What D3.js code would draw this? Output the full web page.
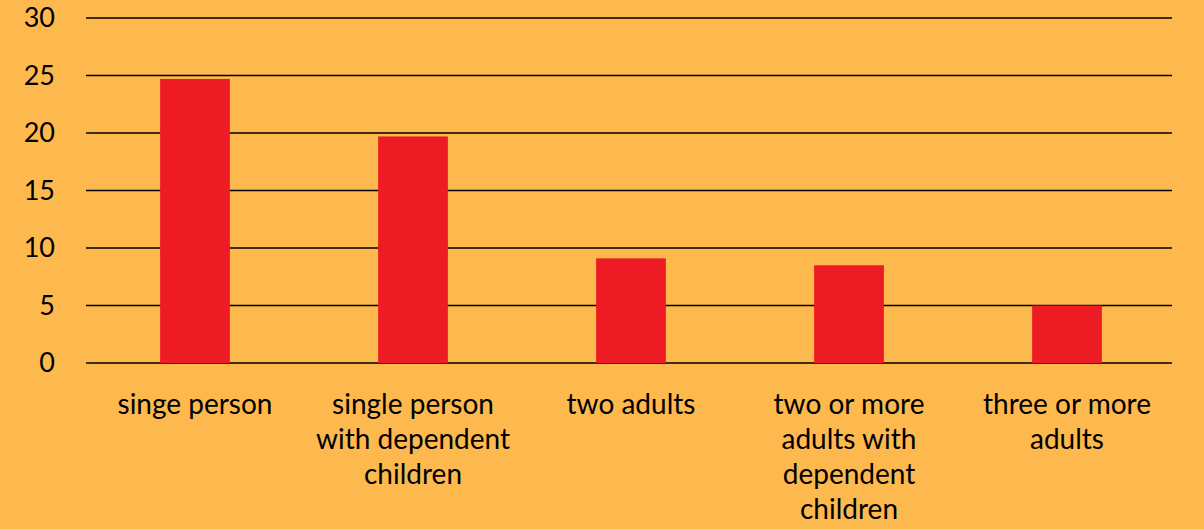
<!DOCTYPE html>
<html lang="en">
  <head>
    <meta charset="utf-8">
    <title>Households chart</title>
    <style>
      body { margin: 0; background: #fdb94e; }
      svg { display: block; font-family: Lato, "Open Sans", sans-serif; }
      .tick text { fill: #000; }
    </style>
    <script src="https://cdn.jsdelivr.net/npm/d3@7/dist/d3.min.js"></script>
  </head>
  <body>
    <svg id="chart" width="1204" height="529"></svg>
    <script>
      // data
      var categories = ["singe person", "single person with dependent children", "two adults",
                        "two or more adults with dependent children", "three or more adults"];
      var labelLines = [["singe person"],
                        ["single person", "with dependent", "children"],
                        ["two adults"],
                        ["two or more", "adults with", "dependent", "children"],
                        ["three or more", "adults"]];
      var values = [24.7, 19.7, 9.1, 8.5, 5.0];
      var yTicks = [0, 5, 10, 15, 20, 25, 30];

      var svg = d3.select('#chart');
      var plotL = 87, plotR = 1172, plotT = 18, plotB = 363;

      // categories spread slightly wider than the gridlines, like the original
      var x = d3.scaleBand().domain(categories).range([86, 1176]).padding(0);
      var y = d3.scaleLinear().domain([0, 30]).range([plotB, plotT]);
      var barW = x.bandwidth() * 0.32;

      // gridlines
      svg.append('g').selectAll('line').data(yTicks).enter().append('line')
        .attr('x1', plotL - 1).attr('x2', plotR)
        .attr('y1', function(d) { return y(d); })
        .attr('y2', function(d) { return y(d); })
        .style('stroke', '#000').style('stroke-width', 1.5);

      // bars
      svg.append('g').selectAll('rect').data(values).enter().append('rect')
        .attr('x', function(d, i) { return x(categories[i]) + x.bandwidth() / 2 - barW / 2; })
        .attr('y', function(d) { return y(d); })
        .attr('width', barW)
        .attr('height', function(d) { return y(0) - y(d); })
        .style('fill', '#ed1c24');

      // y axis labels
      var yAxis = svg.append('g').attr('transform', 'translate(' + (plotL - 32) + ',0)')
        .call(d3.axisLeft(y).tickValues(yTicks).tickSize(0).tickPadding(0));
      yAxis.select('.domain').remove();
      yAxis.selectAll('text').style('font-size', '27px').style('font-family', 'Lato, sans-serif');

      // category labels
      var lab = svg.append('g').selectAll('text').data(labelLines).enter().append('text')
        .attr('text-anchor', 'middle')
        .attr('x', function(d, i) { return x(categories[i]) + x.bandwidth() / 2; })
        .attr('y', 414)
        .style('font-size', '28px').style('fill', '#000');
      lab.selectAll('tspan').data(function(d) { return d; }).enter().append('tspan')
        .attr('x', function() { return d3.select(this.parentNode).attr('x'); })
        .attr('dy', function(d, i) { return i === 0 ? 0 : 35; })
        .text(function(d) { return d; });
    </script>
  </body>
</html>
